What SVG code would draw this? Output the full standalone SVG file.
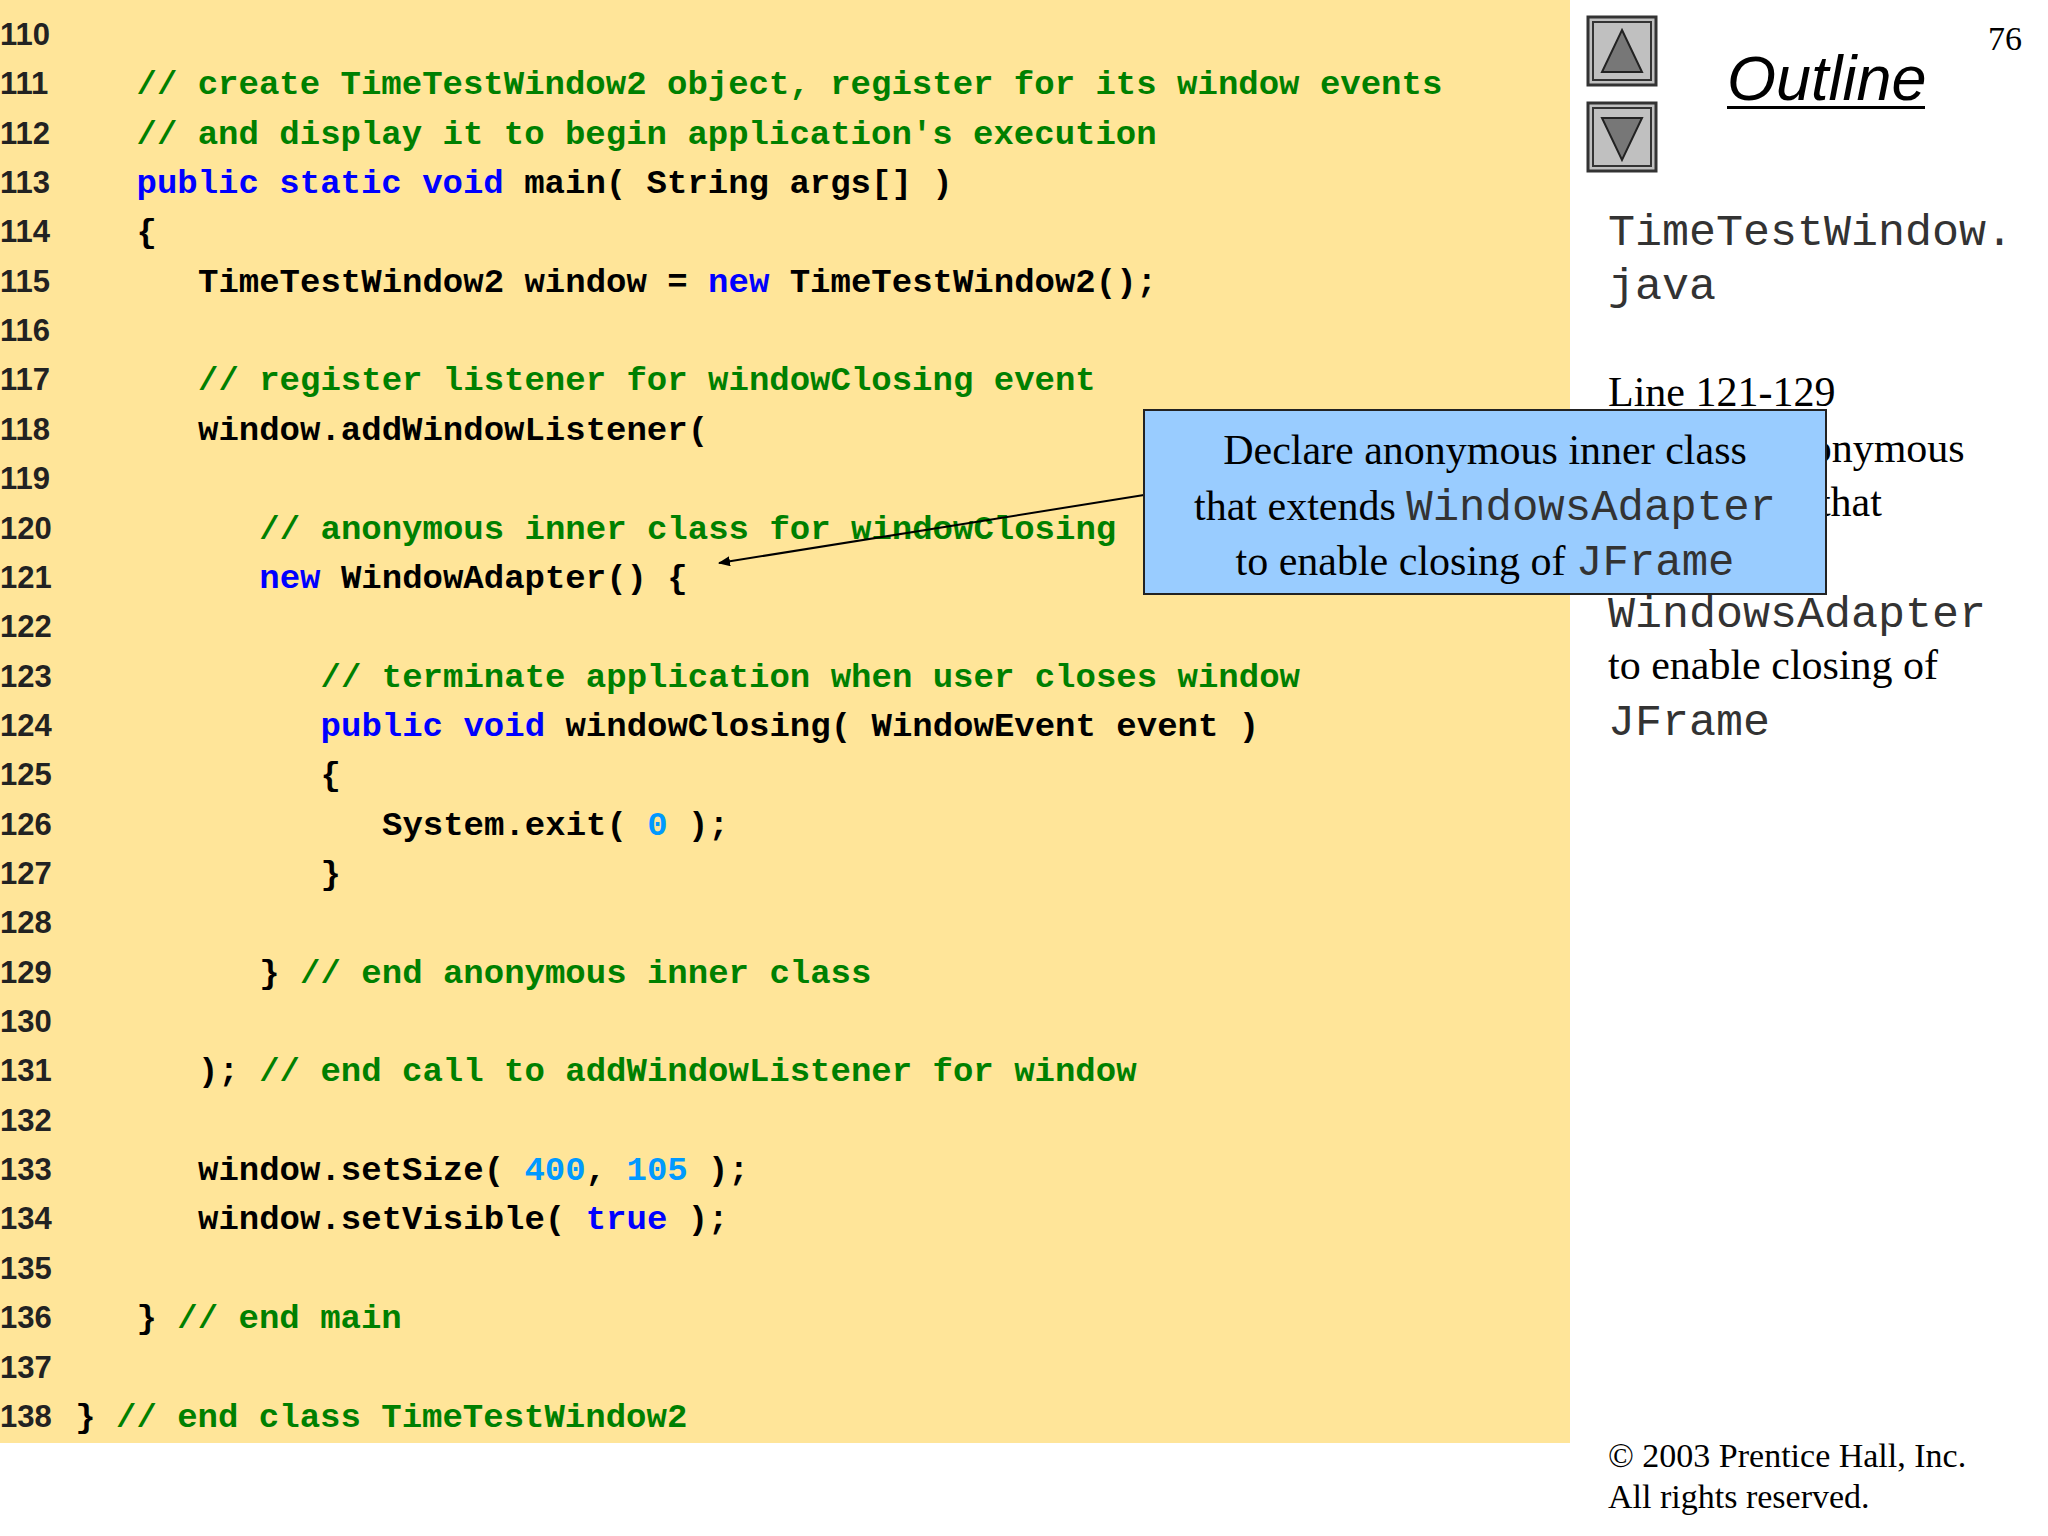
<svg xmlns="http://www.w3.org/2000/svg" width="2048" height="1536" viewBox="0 0 2048 1536">
<style>
.ln{font-family:"Liberation Sans",Arial,sans-serif;font-weight:bold;font-size:31px;fill:#222}
.c{font-family:"Liberation Mono","Courier New",monospace;font-weight:bold;font-size:34px;fill:#000;white-space:pre}
.g{fill:#008000}.k{fill:#0000ff}.n{fill:#0099ff}
.t{font-family:"Liberation Serif","Times New Roman",serif;font-size:42px;fill:#000}
.m{font-family:"Liberation Mono","Courier New",monospace;font-size:44px;fill:#333}
.mr{font-family:"Liberation Mono","Courier New",monospace;font-size:45px;fill:#333}
</style>
<defs><marker id="ah" markerWidth="12" markerHeight="10" refX="11" refY="5" orient="auto" markerUnits="userSpaceOnUse"><path d="M0,0 L12,5 L0,10 z" fill="#000"/></marker></defs>
<rect width="2048" height="1536" fill="#fff"/>
<rect x="0" y="0" width="1570" height="1443" fill="#ffe599"/>
<g id="linenumbers" class="ln" transform="translate(0,3)">
<text x="0" y="42">110</text><text x="0" y="91">111</text><text x="0" y="141">112</text><text x="0" y="190">113</text><text x="0" y="239">114</text><text x="0" y="289">115</text><text x="0" y="338">116</text><text x="0" y="387">117</text><text x="0" y="437">118</text><text x="0" y="486">119</text><text x="0" y="536">120</text><text x="0" y="585">121</text><text x="0" y="634">122</text><text x="0" y="684">123</text><text x="0" y="733">124</text><text x="0" y="782">125</text><text x="0" y="832">126</text><text x="0" y="881">127</text><text x="0" y="930">128</text><text x="0" y="980">129</text><text x="0" y="1029">130</text><text x="0" y="1078">131</text><text x="0" y="1128">132</text><text x="0" y="1177">133</text><text x="0" y="1226">134</text><text x="0" y="1276">135</text><text x="0" y="1325">136</text><text x="0" y="1375">137</text><text x="0" y="1424">138</text>
</g>
<g id="code" class="c" xml:space="preserve" transform="translate(2,3)">
<text class="c" x="134.5" y="91"><tspan class="g">// create TimeTestWindow2 object, register for its window events</tspan></text>
<text class="c" x="134.5" y="141"><tspan class="g">// and display it to begin application's execution</tspan></text>
<text class="c" x="134.5" y="190"><tspan class="k">public static void</tspan> main( String args[] )</text>
<text class="c" x="134.5" y="239">{</text>
<text class="c" x="196" y="289">TimeTestWindow2 window = <tspan class="k">new</tspan> TimeTestWindow2();</text>
<text class="c" x="196" y="387"><tspan class="g">// register listener for windowClosing event</tspan></text>
<text class="c" x="196" y="437">window.addWindowListener(</text>
<text class="c" x="257.3" y="536"><tspan class="g">// anonymous inner class for windowClosing</tspan></text>
<text class="c" x="257.3" y="585"><tspan class="k">new</tspan> WindowAdapter() {</text>
<text class="c" x="318.6" y="684"><tspan class="g">// terminate application when user closes window</tspan></text>
<text class="c" x="318.6" y="733"><tspan class="k">public void</tspan> windowClosing( WindowEvent event )</text>
<text class="c" x="318.6" y="782">{</text>
<text class="c" x="380" y="832">System.exit( <tspan class="n">0</tspan> );</text>
<text class="c" x="318.6" y="881">}</text>
<text class="c" x="257.3" y="980">} <tspan class="g">// end anonymous inner class</tspan></text>
<text class="c" x="196" y="1078">); <tspan class="g">// end call to addWindowListener for window</tspan></text>
<text class="c" x="196" y="1177">window.setSize( <tspan class="n">400</tspan>, <tspan class="n">105</tspan> );</text>
<text class="c" x="196" y="1226">window.setVisible( <tspan class="k">true</tspan> );</text>
<text class="c" x="134.5" y="1325">} <tspan class="g">// end main</tspan></text>
<text class="c" x="73.2" y="1424">} <tspan class="g">// end class TimeTestWindow2</tspan></text>
</g>
<g id="nav">
<rect x="1588" y="17" width="68" height="68" fill="#c0c0c0" stroke="#333" stroke-width="3"/>
<rect x="1593" y="22" width="58" height="58" fill="none" stroke="#333" stroke-width="2"/>
<path d="M1622,30 L1642,72 L1602,72 z" fill="#777" stroke="#222" stroke-width="2"/>
<rect x="1588" y="103" width="68" height="68" fill="#c0c0c0" stroke="#333" stroke-width="3"/>
<rect x="1593" y="108" width="58" height="58" fill="none" stroke="#333" stroke-width="2"/>
<path d="M1602,118 L1642,118 L1622,160 z" fill="#777" stroke="#222" stroke-width="2"/>
</g>
<g id="sidebar">
<text x="1988" y="50" font-family="Liberation Serif,serif" font-size="34">76</text>
<text x="1727" y="100" font-family="Liberation Sans,Arial,sans-serif" font-style="italic" font-size="63">Outline</text>
<rect x="1727" y="106" width="198" height="3" fill="#000"/>
<text class="mr" x="1608" y="245">TimeTestWindow.</text>
<text class="mr" x="1608" y="299">java</text>
<text class="t" x="1608" y="406">Line 121-129</text>
<text class="t" x="1630" y="462">Declare anonymous</text>
<text class="t" x="1630" y="516">inner class that</text>
<text class="mr" x="1608" y="571">extends</text>
<text class="mr" x="1608" y="627">WindowsAdapter</text>
<text class="t" x="1608" y="679" font-size="43">to enable closing of</text>
<text class="mr" x="1608" y="735">JFrame</text>
<text x="1608" y="1467" font-family="Liberation Serif,serif" font-size="34">© 2003 Prentice Hall, Inc.</text>
<text x="1608" y="1508" font-family="Liberation Serif,serif" font-size="34">All rights reserved.</text>
</g>
<g id="connectors">
<line x1="1144" y1="495" x2="719" y2="563" stroke="#000" stroke-width="2" marker-end="url(#ah)"/>
</g>
<g id="callout">
<rect x="1144" y="410" width="682" height="184" fill="#99ccff" stroke="#222" stroke-width="2"/>
<text class="t" x="1485" y="464" text-anchor="middle" font-size="43">Declare anonymous inner class</text>
<text class="t" x="1485" y="520" text-anchor="middle" font-size="43">that extends <tspan class="m">WindowsAdapter</tspan></text>
<text class="t" x="1485" y="575" text-anchor="middle" font-size="43">to enable closing of <tspan class="m">JFrame</tspan></text>
</g>
</svg>
